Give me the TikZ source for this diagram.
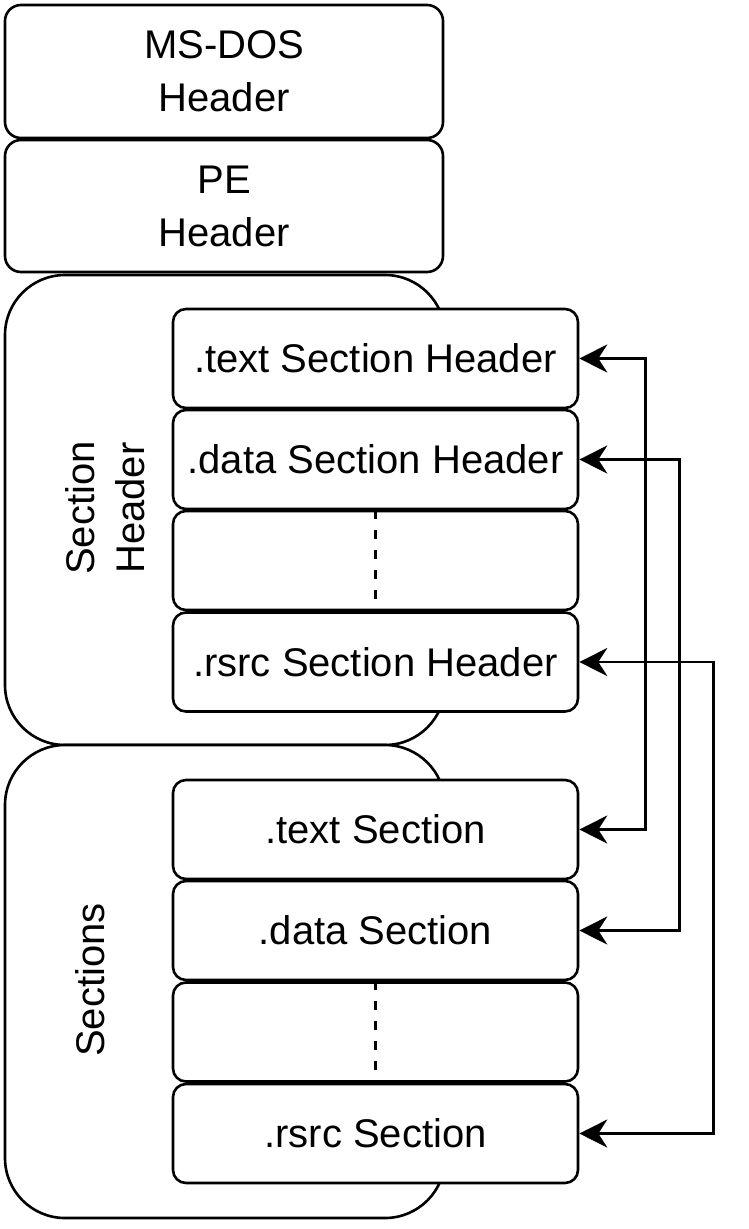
\documentclass[tikz,border=0pt]{standalone}
\usepackage{fontspec}
\setmainfont{Liberation Sans}
\usetikzlibrary{arrows.meta}
\begin{document}
\begin{tikzpicture}[x=1pt,y=-1pt,
  lw/.style={line width=2.6pt},
  hbox/.style={lw,draw,fill=white,rounded corners=16pt,minimum width=438pt,align=center,inner sep=0pt,font=\fontsize{40}{53}\selectfont},
  cont/.style={lw,draw,fill=white,rounded corners=60pt,minimum width=440pt,inner sep=0pt},
  ibox/.style={lw,draw,fill=white,rounded corners=13pt,minimum width=405pt,minimum height=99pt,inner sep=0pt,font=\fontsize{40}{48}\selectfont},
  lbl/.style={rotate=90,align=center,font=\fontsize{40}{50}\selectfont},
  conn/.style={lw,{Stealth[length=28pt,width=28pt,inset=9pt]}-{Stealth[length=28pt,width=28pt,inset=9pt]}},
  dots/.style={lw,dash pattern=on 9pt off 11pt}
]
\useasboundingbox (0,0) rectangle (748,1229);
\node[cont,minimum height=470pt] (shc) at (225,510) {};
\node[cont,minimum height=473pt] (sc) at (225,981.5) {};
\node[hbox,minimum height=133pt] (dos) at (224,71.5) {MS-DOS\\Header};
\node[hbox,minimum height=132pt] (pe) at (224,206) {PE\\Header};
\node[lbl] (shl) at (105,508) {Section\\Header};
\node[lbl] (sl) at (90,980) {Sections};
\node[ibox] (tsh) at (375.5,358.5) {.text Section Header};
\node[ibox] (dsh) at (375.5,459.5) {.data Section Header};
\node[ibox] (xsh) at (375.5,560.5) {};
\node[ibox] (rsh) at (375.5,662) {.rsrc Section Header};
\node[ibox] (ts) at (375.5,829.5) {.text Section};
\node[ibox] (ds) at (375.5,930.5) {.data Section};
\node[ibox] (xs) at (375.5,1032) {};
\node[ibox] (rs) at (375.5,1133.5) {.rsrc Section};
\draw[dots] (xsh.north) -- (xsh.south);
\draw[dots] (xs.north) -- (xs.south);
\draw[conn] (tsh.east) -- ++(66,0) |- (ts.east);
\draw[conn] (dsh.east) -- ++(100,0) |- (ds.east);
\draw[conn] (rsh.east) -- ++(134,0) |- (rs.east);
\end{tikzpicture}
\end{document}
